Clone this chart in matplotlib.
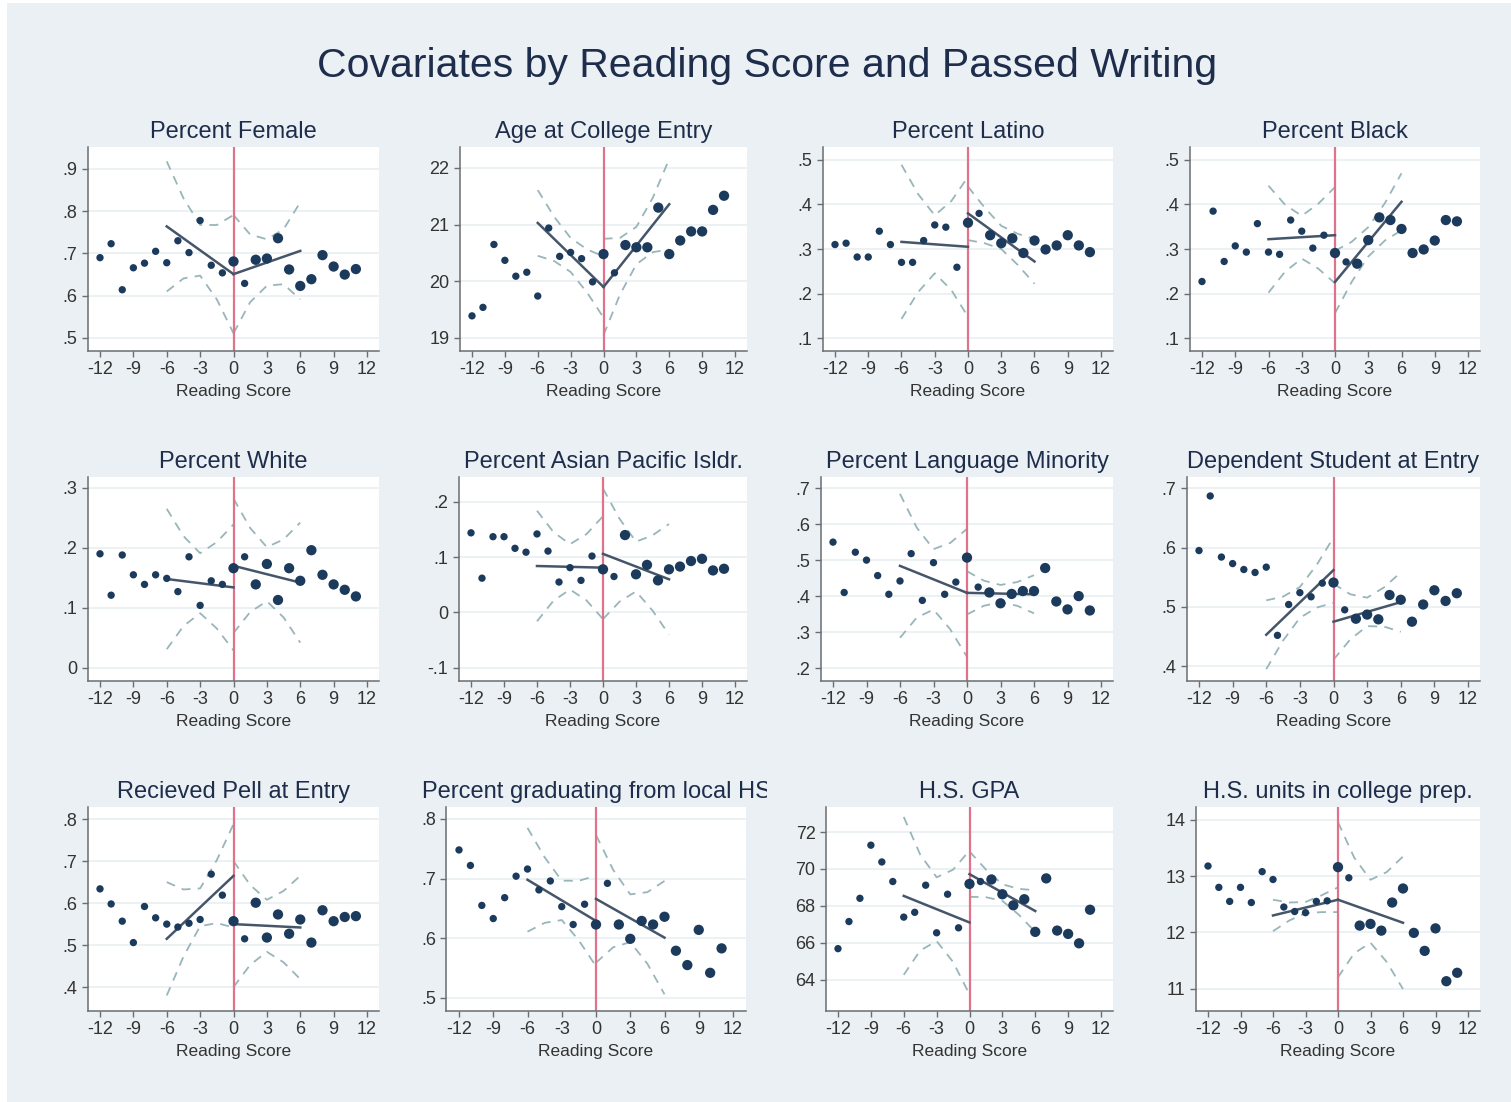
import matplotlib
matplotlib.use('Agg')
import matplotlib.pyplot as plt
import numpy as np
from matplotlib.patches import Rectangle
from matplotlib.transforms import Bbox, TransformedBbox

# reading score bins
reading = [-12, -11, -10, -9, -8, -7, -6, -5, -4, -3, -2, -1,
           0, 1, 2, 3, 4, 5, 6, 7, 8, 9, 10, 11]

# bin means, fit endpoints (left start/end, right start/end), CI half widths (left, right)
female = [.690, .723, .614, .666, .677, .705, .678, .730, .702, .778, .672, .654,
          .681, .629, .685, .688, .736, .662, .623, .639, .696, .669, .650, .663]
female_fit = [.764, .651, .651, .706]
female_ci = [[.154, .095, .060, .088, .140], [.140, .080, .055, .065, .115]]

age = [19.39, 19.54, 20.65, 20.37, 20.09, 20.16, 19.74, 20.94, 20.44, 20.51, 20.40, 19.99,
       20.48, 20.15, 20.64, 20.60, 20.60, 21.30, 20.48, 20.72, 20.88, 20.88, 21.26, 21.51]
age_fit = [21.03, 19.90, 19.90, 21.36]
age_ci = [[.58, .39, .30, .38, .54], [.85, .50, .33, .48, .80]]

latino = [.310, .313, .282, .282, .340, .310, .270, .270, .319, .354, .349, .259,
          .359, .380, .331, .313, .324, .291, .319, .299, .308, .331, .308, .293]
latino_fit = [.316, .305, .380, .272]
latino_ci = [[.173, .110, .065, .100, .157], [.060, .040, .026, .035, .050]]

black = [.227, .385, .272, .307, .293, .357, .293, .288, .365, .340, .302, .331,
         .291, .271, .267, .320, .371, .365, .345, .291, .299, .319, .365, .362]
black_fit = [.322, .331, .226, .406]
black_ci = [[.120, .075, .048, .073, .108], [.070, .045, .033, .042, .064]]

white = [.190, .121, .188, .155, .139, .155, .149, .127, .185, .104, .145, .139,
         .166, .185, .139, .173, .113, .166, .145, .196, .155, .139, .130, .119]
white_fit = [.148, .134, .170, .142]
white_ci = [[.117, .075, .050, .072, .105], [.112, .070, .045, .065, .100]]

asian = [.144, .062, .137, .137, .116, .109, .142, .111, .055, .081, .058, .102,
         .078, .065, .140, .069, .086, .058, .078, .083, .093, .097, .076, .079]
asian_fit = [.084, .081, .106, .060]
asian_ci = [[.100, .062, .041, .060, .093], [.118, .075, .045, .068, .100]]

language = [.550, .410, .522, .500, .457, .405, .442, .518, .388, .493, .405, .439,
            .507, .425, .410, .380, .406, .414, .414, .478, .385, .363, .400, .360]
language_fit = [.484, .409, .409, .405]
language_ci = [[.200, .125, .084, .120, .178], [.060, .035, .024, .033, .053]]

dependent = [.595, .687, .584, .573, .563, .558, .567, .452, .504, .524, .517, .540,
             .541, .495, .480, .487, .479, .520, .512, .475, .504, .528, .510, .523]
dependent_fit = [.453, .562, .475, .508]
dependent_ci = [[.058, .037, .026, .036, .055], [.064, .038, .024, .033, .050]]

pell = [.634, .598, .557, .506, .592, .565, .550, .543, .552, .561, .669, .619,
        .557, .515, .601, .518, .573, .527, .561, .506, .583, .557, .567, .569]
pell_fit = [.515, .665, .550, .542]
pell_ci = [[.135, .080, .045, .075, .123], [.150, .095, .062, .085, .123]]

local_hs = [.748, .722, .655, .633, .668, .704, .716, .681, .696, .653, .623, .657,
            .623, .692, .623, .599, .629, .623, .636, .579, .555, .614, .542, .583]
local_hs_fit = [.698, .629, .666, .601]
local_hs_ci = [[.087, .055, .033, .050, .076], [.107, .065, .040, .060, .095]]

gpa = [65.68, 67.15, 68.41, 71.29, 70.38, 69.32, 67.39, 67.65, 69.12, 66.54, 68.63, 66.81,
       69.19, 69.32, 69.43, 68.63, 68.03, 68.36, 66.59, 69.49, 66.66, 66.48, 65.97, 67.79]
gpa_fit = [68.54, 67.10, 69.72, 67.72]
gpa_ci = [[4.28, 2.60, 1.73, 2.50, 3.90], [1.23, .75, .45, .70, 1.13]]

units = [13.18, 12.80, 12.55, 12.80, 12.53, 13.08, 12.94, 12.45, 12.37, 12.35, 12.55, 12.56,
         13.16, 12.97, 12.12, 12.15, 12.03, 12.53, 12.78, 11.99, 11.67, 12.07, 11.13, 11.28]
units_fit = [12.30, 12.58, 12.58, 12.17]
units_ci = [[.28, .16, .10, .15, .22], [1.38, .85, .56, .80, 1.18]]

titles = ['Percent Female', 'Age at College Entry', 'Percent Latino', 'Percent Black',
          'Percent White', 'Percent Asian Pacific Isldr.', 'Percent Language Minority',
          'Dependent Student at Entry', 'Recieved Pell at Entry',
          'Percent graduating from local HS', 'H.S. GPA', 'H.S. units in college prep.']

panels = [
    (female, female_fit, female_ci, (.469, .952), [.5, .6, .7, .8, .9]),
    (age, age_fit, age_ci, (18.77, 22.37), [19, 20, 21, 22]),
    (latino, latino_fit, latino_ci, (.071, .529), [.1, .2, .3, .4, .5]),
    (black, black_fit, black_ci, (.071, .529), [.1, .2, .3, .4, .5]),
    (white, white_fit, white_ci, (-.022, .318), [0, .1, .2, .3]),
    (asian, asian_fit, asian_ci, (-.124, .245), [-.1, 0, .1, .2]),
    (language, language_fit, language_ci, (.164, .731), [.2, .3, .4, .5, .6, .7]),
    (dependent, dependent_fit, dependent_ci, (.375, .719), [.4, .5, .6, .7]),
    (pell, pell_fit, pell_ci, (.343, .829), [.4, .5, .6, .7, .8]),
    (local_hs, local_hs_fit, local_hs_ci, (.478, .820), [.5, .6, .7, .8]),
    (gpa, gpa_fit, gpa_ci, (62.3, 73.36), [64, 66, 68, 70, 72]),
    (units, units_fit, units_ci, (10.6, 14.23), [11, 12, 13, 14]),
]

# pixel layout of the combined graph (x of tick -12 and 12, rows top/bottom)
tick_px = [(100, 367), (472, 735), (835, 1101), (1202, 1468),
           (100, 367), (471, 735), (833, 1101), (1199, 1468),
           (100, 367), (459, 733), (838, 1101), (1208, 1468)]
row_px = [(147, 351), (477, 681), (807, 1011)]
title_px = [132, 462, 792]

W, H = 1511, 1102
plt.rcParams['font.family'] = ['Liberation Sans', 'DejaVu Sans']
plt.rcParams['axes.unicode_minus'] = False

navy = '#1B3A5C'
fitcol = '#46566A'
cicol = '#98B6BA'
cutcol = '#E0738C'
axcol = '#6A6E72'
txtcol = '#1E2D4B'

fig = plt.figure(figsize=(W / 100, H / 100), dpi=100)
fig.patch.set_facecolor('white')
fig.patches.append(Rectangle((7 / W, 0), 1 - 7 / W, 1 - 3 / H, transform=fig.transFigure,
                             facecolor='#EAF0F3', edgecolor='none', zorder=-10))

fig.text(767 / W, 1 - 66 / H, 'Covariates by Reading Score and Passed Writing',
         ha='center', va='center', fontsize=29.5, color=txtcol)


def fmt(v):
    if v == int(v):
        return str(int(v))
    return ('%.1f' % v).replace('0.', '.')


x = np.array(reading)
left_x = [-6, -4.5, -3, -1.5, 0]
right_x = [0, 1.5, 3, 4.5, 6]

for i, (vals, fit, ci, ylim, yt) in enumerate(panels):
    r = i // 4
    xl, xr = tick_px[i]
    s = (xr - xl) / 24
    lpx, rpx = xl - 1.1 * s, xr + 1.1 * s
    top, bot = row_px[r]
    ax = fig.add_axes([lpx / W, 1 - bot / H, (rpx - lpx) / W, (bot - top) / H])
    ax.set_facecolor('white')
    ax.set_xlim(-13.1, 13.1)
    ax.set_ylim(*ylim)

    # regression lines and confidence bands each side of cutoff
    for xs, (y0, y1), hw in [(left_x, fit[:2], ci[0]), (right_x, fit[2:], ci[1])]:
        line = np.interp(xs, [xs[0], xs[-1]], [y0, y1])
        ax.plot(xs, line + np.array(hw), color=cicol, lw=1.3, dashes=(5, 4), zorder=2)
        ax.plot(xs, line - np.array(hw), color=cicol, lw=1.3, dashes=(5, 4), zorder=2)
        ax.plot([xs[0], xs[-1]], [y0, y1], color=fitcol, lw=1.8, zorder=3)

    sizes = np.where((x >= 0) & (x != 1), 55, 28)
    ax.scatter(x, vals, s=sizes, color=navy, edgecolors='none', zorder=4)
    ax.axvline(0, color=cutcol, lw=1.6, zorder=2.5)

    ax.set_xticks(range(-12, 13, 3))
    ax.set_yticks(yt)
    ax.set_yticklabels([fmt(v) for v in yt])
    ax.yaxis.grid(True, color='#EAF1F3', lw=1.3)
    ax.set_axisbelow(True)
    for sp in ['top', 'right']:
        ax.spines[sp].set_visible(False)
    for sp in ['left', 'bottom']:
        ax.spines[sp].set_color(axcol)
        ax.spines[sp].set_linewidth(1.1)
    ax.tick_params(colors=axcol, labelcolor='#333333', length=4.5, width=1,
                   labelsize=13, pad=3)
    ax.set_xlabel('Reading Score', fontsize=12.5, color='#333333', labelpad=4)

    t = fig.text((lpx + rpx) / 2 / W, 1 - title_px[r] / H, titles[i], ha='center',
                 va='center', fontsize=17, color=txtcol)
    if i == 9:
        # title runs into the next cell and is cut off there
        t.set_clip_box(TransformedBbox(Bbox([[0, 0], [767 / W, 1]]), fig.transFigure))
        t.set_clip_on(True)

plt.savefig('out.png', dpi=100)
